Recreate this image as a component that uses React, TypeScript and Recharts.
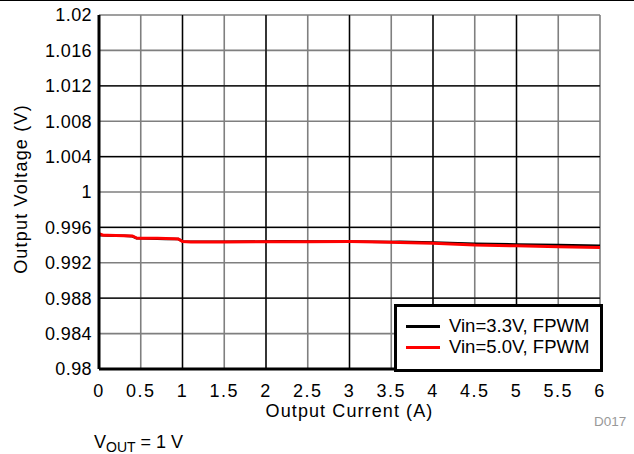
import React from "react";
import {
  LineChart,
  Line,
  XAxis,
  YAxis,
  CartesianGrid,
  ReferenceLine,
} from "recharts";

const currents = [0, 0.05, 0.1, 0.2, 0.3, 0.4, 0.45, 0.5, 0.6, 0.7, 0.8, 0.9, 0.95, 1.0, 1.1, 1.5, 2.0, 2.2, 2.5, 3.0, 3.5, 3.6, 4.0, 4.5, 5.0, 5.5, 6.0];
const vin33 = [0.99512, 0.99510, 0.99508, 0.99506, 0.99505, 0.99500, 0.99478, 0.99476, 0.99475, 0.99472, 0.99470, 0.99470, 0.99468, 0.99442, 0.99438, 0.99437, 0.99440, 0.99443, 0.99440, 0.99440, 0.99436, 0.99438, 0.99428, 0.99415, 0.99408, 0.99400, 0.99394];
const vin50 = [0.99528, 0.99512, 0.99510, 0.99508, 0.99507, 0.99503, 0.99480, 0.99478, 0.99477, 0.99476, 0.99474, 0.99472, 0.99470, 0.99440, 0.99436, 0.99435, 0.99438, 0.99439, 0.99438, 0.99440, 0.99432, 0.99430, 0.99420, 0.99400, 0.99392, 0.99382, 0.99372];

const xTicks = [0, 0.5, 1, 1.5, 2, 2.5, 3, 3.5, 4, 4.5, 5, 5.5, 6];
const yTicks = [0.98, 0.984, 0.988, 0.992, 0.996, 1, 1.004, 1.008, 1.012, 1.016, 1.02];
const xMajor = [1, 2, 3, 4, 5];
const yMajor = [0.988, 0.996, 1.004, 1.012];

const seriesNames = ["Vin=3.3V, FPWM", "Vin=5.0V, FPWM"];
const seriesColors = ["#000000", "#ff0000"];

const data = currents.map((c, i) => ({ x: c, a: vin33[i], b: vin50[i] }));

const FONT = '"Liberation Sans", Arial, sans-serif';

export default function App() {
  return (
    <div style={{ position: "absolute", left: 0, top: 0, width: 634, height: 454, background: "#fff", fontFamily: FONT }}>
      <div style={{ position: "absolute", left: 0, top: 0, width: 634, height: 1, background: "#000" }} />
      <LineChart width={634} height={454} data={data} margin={{ top: 15, right: 34, bottom: 55, left: 0 }}>
        <CartesianGrid stroke="#7f7f7f" strokeWidth={1.6} />
        {xMajor.map((v) => (
          <ReferenceLine key={"x" + v} x={v} stroke="#000" strokeWidth={1.3} />
        ))}
        {yMajor.map((v) => (
          <ReferenceLine key={"y" + v} y={v} stroke="#000" strokeWidth={1.3} />
        ))}
        <XAxis
          dataKey="x"
          type="number"
          domain={[0, 6]}
          ticks={xTicks}
          interval={0}
          tickLine={false}
          axisLine={{ stroke: "#000", strokeWidth: 3 }}
          tick={{ fill: "#000", fontSize: 18, fontFamily: FONT, letterSpacing: 1.5 }}
          tickMargin={9}
          height={30}
        />
        <XAxis
          xAxisId="top"
          orientation="top"
          type="number"
          domain={[0, 6]}
          tick={false}
          tickLine={false}
          height={0}
          axisLine={{ stroke: "#000", strokeWidth: 3 }}
        />
        <YAxis
          type="number"
          domain={[0.98, 1.02]}
          ticks={yTicks}
          interval={0}
          tickLine={false}
          axisLine={{ stroke: "#000", strokeWidth: 3 }}
          tick={{ fill: "#000", fontSize: 18, fontFamily: FONT, letterSpacing: 0.4 }}
          tickFormatter={(v: number) => String(v)}
          tickMargin={1}
          width={99}
        />
        <YAxis
          yAxisId="right"
          orientation="right"
          type="number"
          domain={[0.98, 1.02]}
          tick={false}
          tickLine={false}
          width={0}
          axisLine={{ stroke: "#000", strokeWidth: 3 }}
        />
        <Line type="linear" dataKey="a" stroke={seriesColors[0]} strokeWidth={2.5} dot={false} isAnimationActive={false} />
        <Line type="linear" dataKey="b" stroke={seriesColors[1]} strokeWidth={3} dot={false} isAnimationActive={false} />
      </LineChart>

      <div
        style={{
          position: "absolute",
          left: 394,
          top: 304,
          width: 203,
          height: 62,
          border: "3px solid #000",
          background: "#fff",
          boxSizing: "content-box",
        }}
      >
        {seriesNames.map((n, i) => (
          <div key={n} style={{ position: "absolute", left: 9, top: 9 + i * 21, display: "flex", alignItems: "center", height: 20 }}>
            <div style={{ width: 34, height: 3, background: seriesColors[i] }} />
            <span style={{ marginLeft: 9, fontSize: 18.5, lineHeight: "20px", color: "#000", whiteSpace: "nowrap" }}>{n}</span>
          </div>
        ))}
      </div>

      <div style={{ position: "absolute", left: 99, width: 501, top: 400, textAlign: "center", fontSize: 18, lineHeight: "22px", letterSpacing: 1.1, color: "#000" }}>
        Output Current (A)
      </div>
      <div
        style={{
          position: "absolute",
          left: 21,
          top: 189,
          transform: "translate(-50%, -50%) rotate(-90deg)",
          fontSize: 18,
          lineHeight: "22px",
          letterSpacing: 1.2,
          color: "#000",
          whiteSpace: "nowrap",
        }}
      >
        Output Voltage (V)
      </div>
      <div style={{ position: "absolute", left: 594, top: 414, fontSize: 13.5, lineHeight: "16px", color: "#999" }}>D017</div>
      <div style={{ position: "absolute", left: 94, top: 431, fontSize: 18, lineHeight: "22px", color: "#000", whiteSpace: "nowrap" }}>
        V<sub style={{ fontSize: 14, verticalAlign: "-4px" }}>OUT</sub> = 1 V
      </div>
    </div>
  );
}
